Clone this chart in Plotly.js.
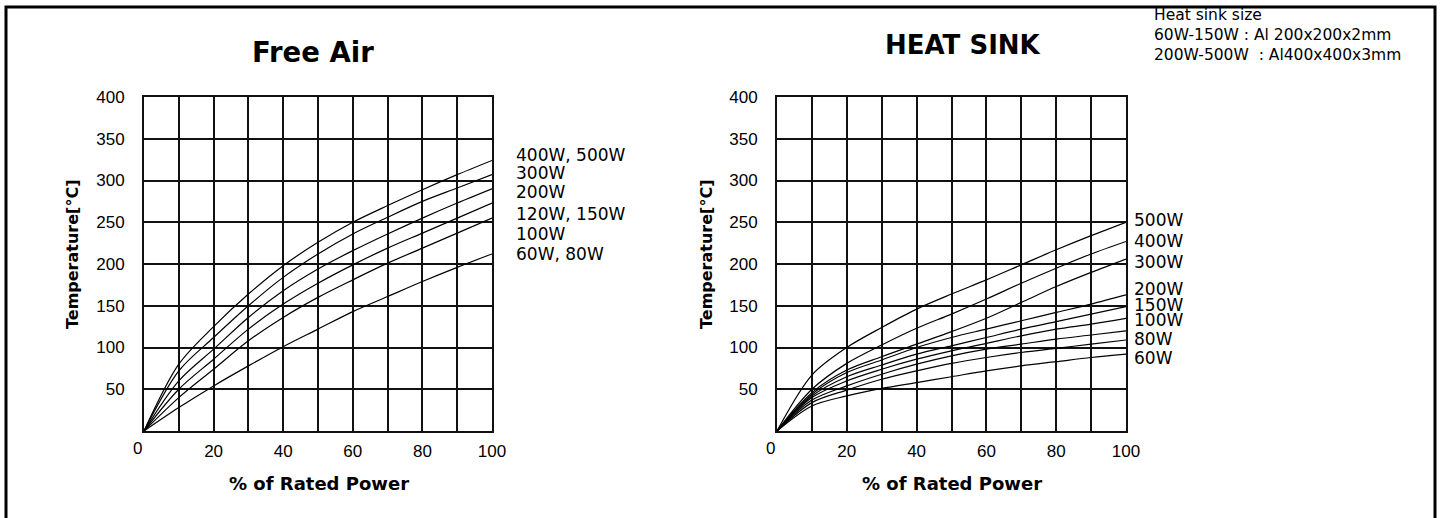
<!DOCTYPE html>
<html>
<head>
<meta charset="utf-8">
<script src="https://cdn.plot.ly/plotly-3.0.1.min.js"></script>
<style>html,body{margin:0;padding:0;background:#fff;}#chart{width:1442px;height:518px;}</style>
</head>
<body>
<div id="chart"></div>
<script>
// ---- data ----
const pct = [0, 10, 20, 30, 40, 50, 60, 70, 80, 90, 100];

// Free Air curves
const fa_400_500 = [0, 80, 125, 164, 198, 226, 250, 270, 289, 307, 324];
const fa_300     = [0, 72, 112, 150, 184, 212, 236, 256, 275, 291, 307];
const fa_200     = [0, 60, 98, 136, 168, 194, 216, 236, 255, 273, 290];
const fa_120_150 = [0, 50, 86, 122, 152, 177, 199, 219, 237, 255, 273];
const fa_100     = [0, 40, 74, 108, 136, 160, 181, 201, 219, 237, 255];
const fa_60_80   = [0, 28, 54, 78, 101, 122, 143, 161, 179, 196, 212];
const faSeries = [fa_400_500, fa_300, fa_200, fa_120_150, fa_100, fa_60_80];
const faNames  = ['400W, 500W', '300W', '200W', '120W, 150W', '100W', '60W, 80W'];

// Heat sink curves
const hs_500 = [0, 67, 100, 124, 146, 164, 181, 199, 217, 234, 250];
const hs_400 = [0, 50, 81, 103, 123, 140, 158, 177, 195, 212, 227];
const hs_300 = [0, 46, 73, 89, 104, 119, 135, 154, 173, 190, 206];
const hs_200 = [0, 44, 70, 85, 100, 112, 122, 132, 142, 152, 163];
const hs_150 = [0, 42, 65, 79, 92, 102, 112, 122, 131, 140, 149];
const hs_120 = [0, 40, 60, 74, 86, 96, 105, 114, 122, 128, 135];
const hs_100 = [0, 37, 54, 68, 80, 90, 98, 104, 110, 115, 120];
const hs_80  = [0, 34, 49, 62, 72, 81, 88, 94, 99, 104, 109];
const hs_60  = [0, 30, 42, 51, 58, 65, 72, 78, 83, 88, 92];
const hsSeries = [hs_500, hs_400, hs_300, hs_200, hs_150, hs_120, hs_100, hs_80, hs_60];
const hsNames  = ['500W', '400W', '300W', '200W', '150W', '120W', '100W', '80W', '60W'];

// curve-end labels (text, and the value level where each label sits)
const faLabelText = ['400W, 500W', '300W', '200W', '120W, 150W', '100W', '60W, 80W'];
const faLabelAt   = [331, 309, 286, 260, 236, 212];
const hsLabelText = ['500W', '400W', '300W', '200W', '150W', '100W', '80W', '60W'];
const hsLabelAt   = [253, 227, 203, 170, 151, 133, 110, 88];

// axis ticks
const xTickVals = [0, 10, 20, 30, 40, 50, 60, 70, 80, 90, 100];
const xTickText = ['', '', '20', '', '40', '', '60', '', '80', '', '100'];
const yTickVals = [0, 50, 100, 150, 200, 250, 300, 350, 400];
const yTickText = ['', '50', '100', '150', '200', '250', '300', '350', '400'];

// ---- layout helpers ----
const W = 1442, H = 518;
const px = v => v / W;
const py = v => (H - v) / H;

const lineStyle = {color: '#000', width: 1.2, shape: 'spline', smoothing: 0.9};
const traces = [];
faSeries.forEach((s, i) => traces.push({x: pct, y: s, name: faNames[i], type: 'scatter', mode: 'lines',
  line: lineStyle, xaxis: 'x', yaxis: 'y', hoverinfo: 'name+x+y'}));
hsSeries.forEach((s, i) => traces.push({x: pct, y: s, name: hsNames[i], type: 'scatter', mode: 'lines',
  line: lineStyle, xaxis: 'x2', yaxis: 'y2', hoverinfo: 'name+x+y'}));

const tickFont = {family: 'Liberation Sans, Arial, sans-serif', size: 17, color: '#000'};
function xAxis(domain, anchor) {
  return {domain: domain, anchor: anchor, range: [0, 100], tickvals: xTickVals, ticktext: xTickText,
    showgrid: true, gridcolor: '#111', gridwidth: 2, showline: true, linecolor: '#111', linewidth: 2,
    mirror: true, zeroline: false, ticks: '', tickfont: tickFont, ticklabelstandoff: 4, fixedrange: true};
}
function yAxis(domain, anchor) {
  return {domain: domain, anchor: anchor, range: [0, 400], tickvals: yTickVals, ticktext: yTickText,
    showgrid: true, gridcolor: '#111', gridwidth: 2, showline: true, linecolor: '#111', linewidth: 2,
    mirror: true, zeroline: false, ticks: '', tickfont: tickFont, ticklabelstandoff: 14, fixedrange: true};
}
const yDom = [py(431), py(97)];

const labelFont = {family: 'DejaVu Sans, Verdana, sans-serif', size: 17, color: '#000'};
const boldFont = s => ({family: 'DejaVu Sans, Verdana, sans-serif', size: s, color: '#000', weight: 'bold'});

const annotations = [];
faLabelText.forEach((t, i) => annotations.push({xref: 'x', yref: 'y', x: 100, y: faLabelAt[i], text: t,
  showarrow: false, xanchor: 'left', yanchor: 'middle', xshift: 22, font: labelFont}));
hsLabelText.forEach((t, i) => annotations.push({xref: 'x2', yref: 'y2', x: 100, y: hsLabelAt[i], text: t,
  showarrow: false, xanchor: 'left', yanchor: 'middle', xshift: 6, font: labelFont}));

const paperText = (x, y, text, font, extra) => Object.assign({xref: 'paper', yref: 'paper', x: px(x), y: py(y),
  text: text, showarrow: false, xanchor: 'center', yanchor: 'middle', font: font}, extra || {});

annotations.push(paperText(313, 52, 'Free Air', boldFont(27.5)));
annotations.push(paperText(963, 45, 'HEAT SINK', boldFont(26)));
annotations.push(paperText(72, 255, 'Temperature[°C]', boldFont(16), {textangle: -90}));
annotations.push(paperText(706, 255, 'Temperature[°C]', boldFont(16), {textangle: -90}));
annotations.push(paperText(319, 483, '% of Rated Power', boldFont(18)));
annotations.push(paperText(952, 483, '% of Rated Power', boldFont(18)));
annotations.push(paperText(137, 449, '0', tickFont));
annotations.push(paperText(770, 449, '0', tickFont));
annotations.push(paperText(1152, 35, 'Heat sink size<br>60W-150W : Al 200x200x2mm<br>200W-500W\u00a0\u00a0: Al400x400x3mm',
  {family: 'DejaVu Sans, Verdana, sans-serif', size: 15.5, color: '#000'}, {xanchor: 'left', align: 'left'}));

const layout = {
  width: W, height: H, margin: {l: 0, r: 0, t: 0, b: 0}, paper_bgcolor: '#fff', plot_bgcolor: '#fff',
  showlegend: false,
  xaxis: xAxis([px(144), px(492)], 'y'),
  yaxis: yAxis(yDom, 'x'),
  xaxis2: xAxis([px(777), px(1126)], 'y2'),
  yaxis2: yAxis(yDom, 'x2'),
  annotations: annotations,
  shapes: [{type: 'rect', xref: 'paper', yref: 'paper', x0: px(6), x1: px(1435), y0: -0.05, y1: py(7),
    line: {color: '#000', width: 3}}]
};

Plotly.newPlot('chart', traces, layout, {displayModeBar: false});
</script>
</body>
</html>
